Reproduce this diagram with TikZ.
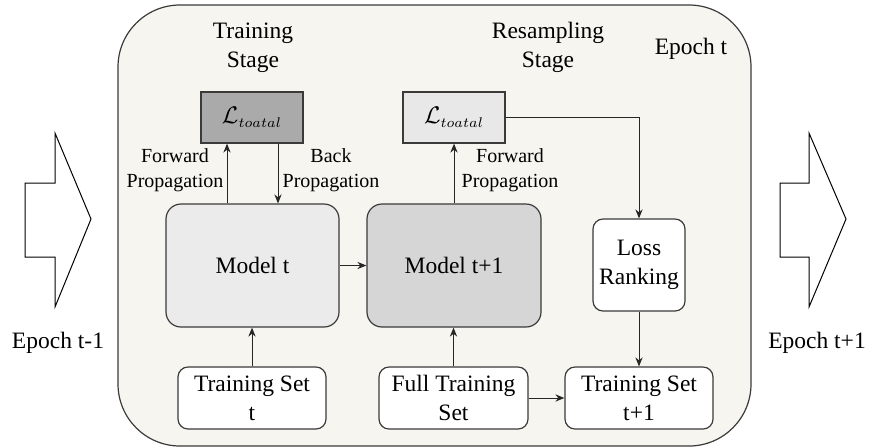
\documentclass[tikz,border=0pt]{standalone}
\usepackage{fontspec}
\setmainfont{Liberation Serif}
\usetikzlibrary{arrows.meta}
\definecolor{bgcream}{HTML}{F7F5EF}
\definecolor{boxline}{HTML}{3A3A3A}
\definecolor{lossdark}{HTML}{AAAAAA}
\definecolor{losslight}{HTML}{E8E8E8}
\definecolor{modelone}{HTML}{EBEBEB}
\definecolor{modeltwo}{HTML}{D6D6D6}
\newcommand{\losssym}{$\mathcal{L}_{\mbox{\fontsize{7}{8}\selectfont$toatal$}}$}
\begin{document}
\begin{tikzpicture}[x=0.5pt,y=-0.5pt,
  mainfont/.style={font=\fontsize{11.75}{14.5}\selectfont},
  smallfont/.style={font=\fontsize{10}{12.5}\selectfont},
  box/.style={draw=boxline, line width=0.6pt, align=center, inner sep=0pt, mainfont},
  modelbox/.style={box, rounded corners=7.5pt, minimum height=61.5pt},
  setbox/.style={box, rounded corners=5pt, fill=white, minimum width=74pt, minimum height=31pt},
  lossbox/.style={box, minimum width=51pt, minimum height=25.5pt},
  txt/.style={align=center, inner sep=0pt, mainfont},
  lbl/.style={align=center, inner sep=0pt, smallfont},
  arr/.style={-{Stealth[length=4.5pt,width=3.6pt]}, line width=0.5pt, draw=black!85},
  bigarrow/.style={draw=black, line width=0.5pt, fill=white, line join=miter}
]
\useasboundingbox (0,0) rectangle (870,447);

% container
\node[draw=boxline, line width=0.6pt, fill=bgcream, rounded corners=31pt,
      minimum width=316.5pt, minimum height=220.5pt, inner sep=0pt] (epoch) at (434.5,225.5) {};

% big epoch arrows
\draw[bigarrow] (25,183) -- (55,183) -- (55,133) -- (91,219) -- (55,307) -- (55,257) -- (25,257) -- cycle;
\draw[bigarrow] (780,183) -- (809,183) -- (809,133) -- (846,219) -- (809,307) -- (809,257) -- (780,257) -- cycle;

% texts
\node[txt] (eprev) at (58,343) {Epoch t-1};
\node[txt] (enext) at (817,343) {Epoch t+1};
\node[txt] (ecur) at (691,49) {Epoch t};
\node[txt] (tstage) at (253,47.5) {Training\\Stage};
\node[txt] (rstage) at (548,47.5) {Resampling\\Stage};

% boxes
\node[lossbox, fill=lossdark] (loss1) at (252,117.5) {\losssym};
\node[lossbox, fill=losslight] (loss2) at (454,117.5) {\losssym};
\node[modelbox, fill=modelone, minimum width=86.5pt] (model1) at (252.5,265.5) {Model t};
\node[modelbox, fill=modeltwo, minimum width=87pt] (model2) at (454,265.5) {Model t+1};
\node[box, rounded corners=5pt, fill=white, minimum width=46pt, minimum height=46pt] (rank) at (639,265) {Loss\\Ranking};
\node[setbox] (tst) at (252,398) {Training Set\\t};
\node[setbox, minimum width=74.5pt] (full) at (453.5,398) {Full Training\\Set};
\node[setbox] (tsn) at (639,398) {Training Set\\t+1};

% labels
\node[lbl] (fp1) at (175,170.5) {Forward\\Propagation};
\node[lbl] (bp1) at (331,170.5) {Back\\Propagation};
\node[lbl] (fp2) at (510,170.5) {Forward\\Propagation};

% connectors
\draw[arr] ([xshift=-12.5pt]loss1.south |- model1.north) -- ([xshift=-12.5pt]loss1.south);
\draw[arr] ([xshift=13pt]loss1.south) -- ([xshift=13pt]loss1.south |- model1.north);
\draw[arr] (model1.east) -- (model2.west);
\draw[arr] (model2.north) -- (loss2.south);
\draw[arr] (loss2.east) -- (rank.north |- loss2.east) -- (rank.north);
\draw[arr] (rank.south) -- (tsn.north);
\draw[arr] (tst.north) -- (tst.north |- model1.south);
\draw[arr] (full.north) -- (full.north |- model2.south);
\draw[arr] (full.east) -- (tsn.west);
\end{tikzpicture}
\end{document}
